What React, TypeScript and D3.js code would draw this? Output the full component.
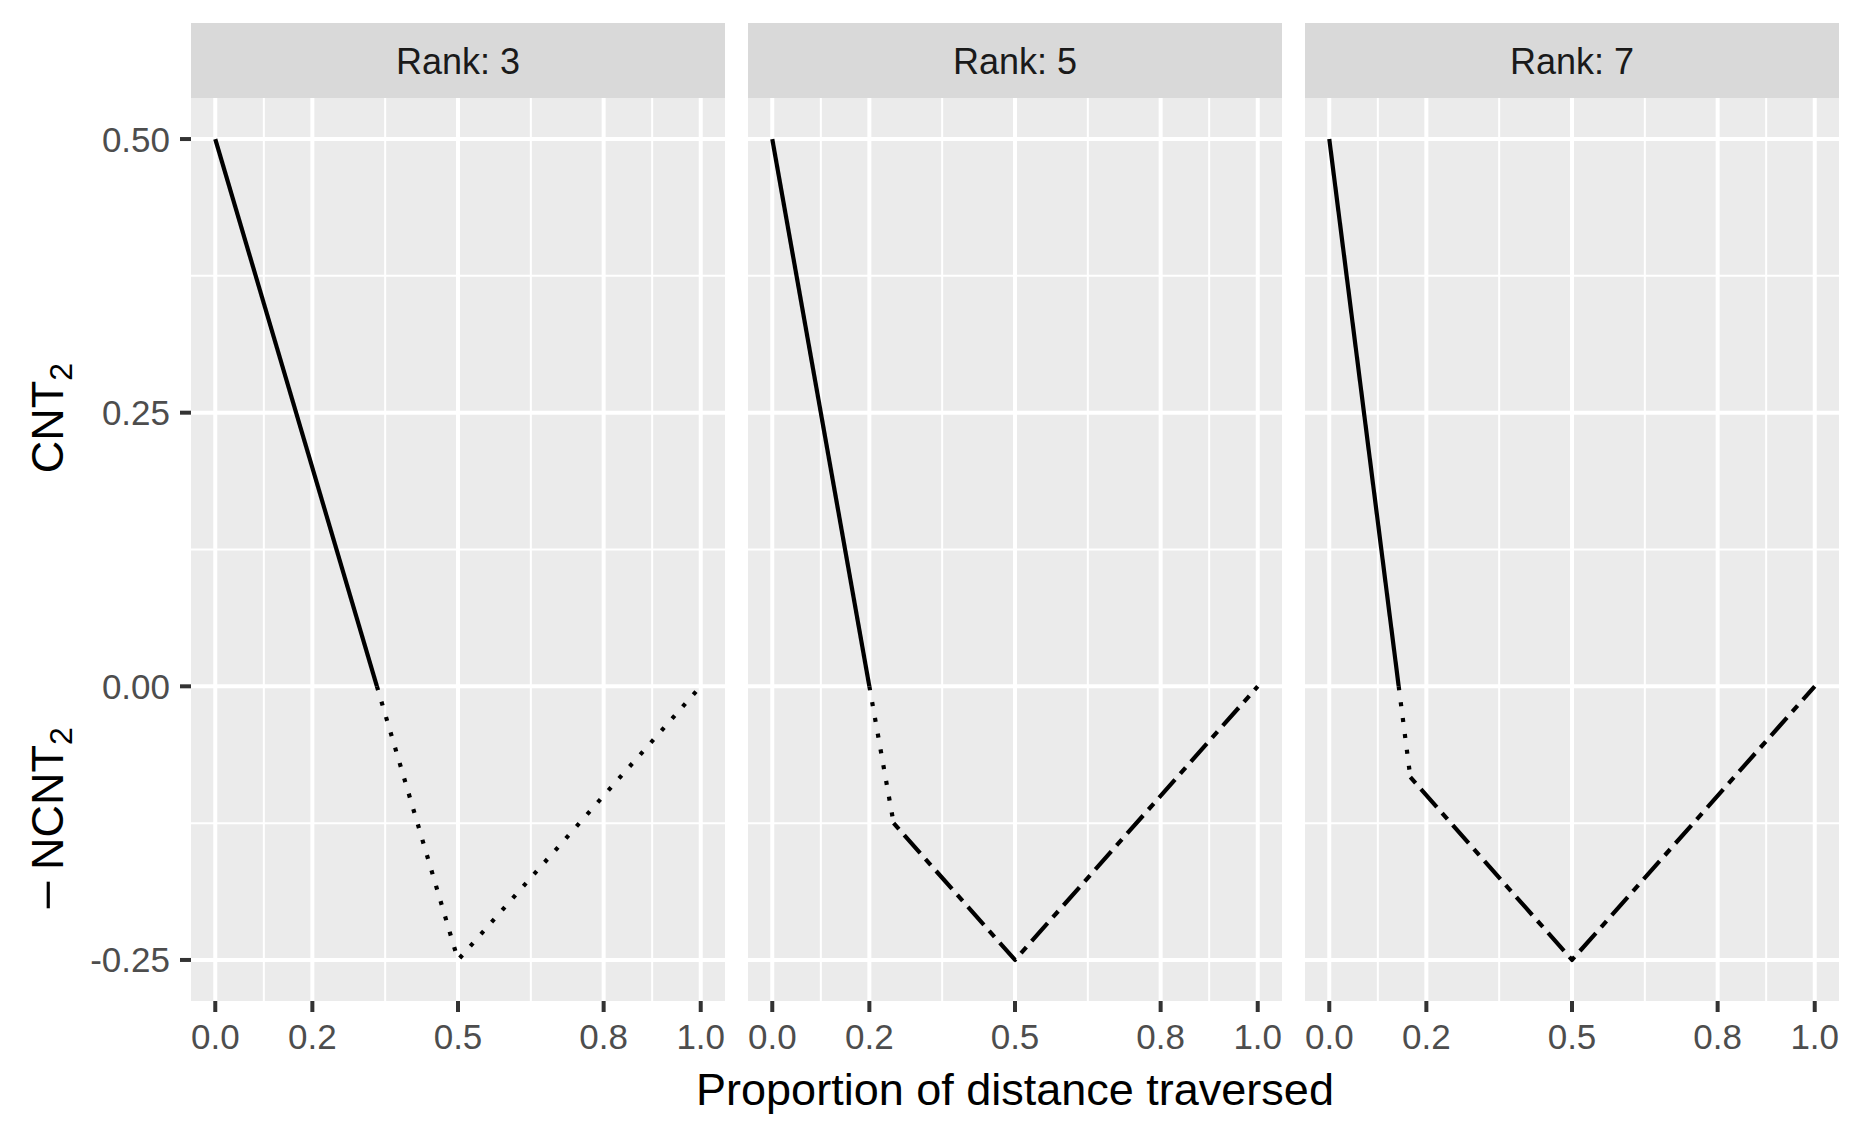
import React from "react";
import * as d3 from "d3";

// ---- data ----
const panels = ["Rank: 3", "Rank: 5", "Rank: 7"];

// Rank 3 path pieces
const rank3SolidX = [0, 0.333];
const rank3SolidY = [0.5, 0];
const rank3DottedX = [0.333, 0.5, 1.0];
const rank3DottedY = [0, -0.25, 0];
const rank3TwodashX: number[] = [];
const rank3TwodashY: number[] = [];

// Rank 5 path pieces
const rank5SolidX = [0, 0.2];
const rank5SolidY = [0.5, 0];
const rank5DottedX = [0.2, 0.25];
const rank5DottedY = [0, -0.125];
const rank5TwodashX = [0.25, 0.5, 1.0];
const rank5TwodashY = [-0.125, -0.25, 0];

// Rank 7 path pieces
const rank7SolidX = [0, 0.143];
const rank7SolidY = [0.5, 0];
const rank7DottedX = [0.143, 0.167];
const rank7DottedY = [0, -0.083];
const rank7TwodashX = [0.167, 0.5, 1.0];
const rank7TwodashY = [-0.083, -0.25, 0];

const xTicks = [0, 0.2, 0.5, 0.8, 1.0];
const xTickLabels = ["0.0", "0.2", "0.5", "0.8", "1.0"];
const xMinor = [0.1, 0.35, 0.65, 0.9];
const yTicks = [0.5, 0.25, 0, -0.25];
const yTickLabels = ["0.50", "0.25", "0.00", "-0.25"];
const yMinor = [0.375, 0.125, -0.125];

const xTitle = "Proportion of distance traversed";

// ---- layout ----
const W = 1860;
const H = 1140;
const panelLeft0 = 191;
const panelW = 534;
const panelGap = 23;
const panelTop = 98;
const panelBottom = 1001;
const stripTop = 23;

const FONT = "'Liberation Sans', Arial, Helvetica, sans-serif";

const dashes: Record<string, string | undefined> = {
  solid: undefined,
  dotted: "4 12",
  twodash: "8 8 24 8",
};

const pieces = [
  [
    { x: rank3SolidX, y: rank3SolidY, lt: "solid" },
    { x: rank3DottedX, y: rank3DottedY, lt: "dotted" },
    { x: rank3TwodashX, y: rank3TwodashY, lt: "twodash" },
  ],
  [
    { x: rank5SolidX, y: rank5SolidY, lt: "solid" },
    { x: rank5DottedX, y: rank5DottedY, lt: "dotted" },
    { x: rank5TwodashX, y: rank5TwodashY, lt: "twodash" },
  ],
  [
    { x: rank7SolidX, y: rank7SolidY, lt: "solid" },
    { x: rank7DottedX, y: rank7DottedY, lt: "dotted" },
    { x: rank7TwodashX, y: rank7TwodashY, lt: "twodash" },
  ],
];

export default function App() {
  const y = d3
    .scaleLinear()
    .domain([-0.25 - 0.0375, 0.5 + 0.0375])
    .range([panelBottom, panelTop]);

  return (
    <svg
      width={W}
      height={H}
      viewBox={`0 0 ${W} ${H}`}
      style={{ position: "absolute", left: 0, top: 0, background: "#fff" }}
    >
      <rect x={0} y={0} width={W} height={H} fill="#ffffff" />
      {panels.map((label, i) => {
        const left = panelLeft0 + i * (panelW + panelGap);
        const x = d3
          .scaleLinear()
          .domain([-0.05, 1.05])
          .range([left, left + panelW]);
        const line = d3
          .line<[number, number]>()
          .x((d) => x(d[0]))
          .y((d) => y(d[1]));
        return (
          <g key={label}>
            {/* strip */}
            <rect
              x={left}
              y={stripTop}
              width={panelW}
              height={panelTop - stripTop}
              fill="#D9D9D9"
            />
            <text
              x={left + panelW / 2}
              y={74}
              textAnchor="middle"
              fontFamily={FONT}
              fontSize={36}
              fill="#1A1A1A"
            >
              {label}
            </text>
            {/* panel background */}
            <rect
              x={left}
              y={panelTop}
              width={panelW}
              height={panelBottom - panelTop}
              fill="#EBEBEB"
            />
            {/* minor grid */}
            {yMinor.map((v) => (
              <line
                key={"ym" + v}
                x1={left}
                x2={left + panelW}
                y1={y(v)}
                y2={y(v)}
                stroke="#fff"
                strokeWidth={2}
              />
            ))}
            {xMinor.map((v) => (
              <line
                key={"xm" + v}
                x1={x(v)}
                x2={x(v)}
                y1={panelTop}
                y2={panelBottom}
                stroke="#fff"
                strokeWidth={2}
              />
            ))}
            {/* major grid */}
            {yTicks.map((v) => (
              <line
                key={"yM" + v}
                x1={left}
                x2={left + panelW}
                y1={y(v)}
                y2={y(v)}
                stroke="#fff"
                strokeWidth={4}
              />
            ))}
            {xTicks.map((v) => (
              <line
                key={"xM" + v}
                x1={x(v)}
                x2={x(v)}
                y1={panelTop}
                y2={panelBottom}
                stroke="#fff"
                strokeWidth={4}
              />
            ))}
            {/* data */}
            {pieces[i]
              .filter((p) => p.x.length > 1)
              .map((p, k) => (
                <path
                  key={k}
                  d={line(p.x.map((xv, j) => [xv, p.y[j]]) as [number, number][]) || ""}
                  fill="none"
                  stroke="#000"
                  strokeWidth={4.2}
                  strokeDasharray={dashes[p.lt]}
                  strokeLinecap="butt"
                  strokeLinejoin="round"
                />
              ))}
            {/* x axis ticks */}
            {xTicks.map((v, j) => (
              <g key={"xt" + v}>
                <line
                  x1={x(v)}
                  x2={x(v)}
                  y1={panelBottom}
                  y2={panelBottom + 11}
                  stroke="#333333"
                  strokeWidth={4}
                />
                <text
                  x={x(v)}
                  y={1049}
                  textAnchor="middle"
                  fontFamily={FONT}
                  fontSize={35}
                  fill="#4D4D4D"
                >
                  {xTickLabels[j]}
                </text>
              </g>
            ))}
          </g>
        );
      })}
      {/* y axis */}
      {yTicks.map((v, j) => (
        <g key={"yt" + v}>
          <line
            x1={panelLeft0 - 11}
            x2={panelLeft0}
            y1={y(v)}
            y2={y(v)}
            stroke="#333333"
            strokeWidth={4}
          />
          <text
            x={170}
            y={y(v) + 12.5}
            textAnchor="end"
            fontFamily={FONT}
            fontSize={35}
            fill="#4D4D4D"
          >
            {yTickLabels[j]}
          </text>
        </g>
      ))}
      {/* axis titles */}
      <text
        x={(panelLeft0 + panelLeft0 + 3 * panelW + 2 * panelGap) / 2}
        y={1105}
        textAnchor="middle"
        fontFamily={FONT}
        fontSize={45}
        fill="#000"
      >
        {xTitle}
      </text>
      <text
        transform={`translate(63, 418) rotate(-90)`}
        textAnchor="middle"
        fontFamily={FONT}
        fontSize={45}
        fill="#000"
      >
        CNT
        <tspan fontSize={32} dy={9}>
          2
        </tspan>
      </text>
      <text
        transform={`translate(63, 911) rotate(-90)`}
        textAnchor="start"
        fontFamily={FONT}
        fontSize={45}
        fill="#000"
        textLength={32}
        lengthAdjust="spacingAndGlyphs"
      >
        {"\u2212"}
      </text>
      <text
        transform={`translate(63, 870) rotate(-90)`}
        textAnchor="start"
        fontFamily={FONT}
        fontSize={45}
        fill="#000"
      >
        NCNT
        <tspan fontSize={32} dy={9}>
          2
        </tspan>
      </text>
    </svg>
  );
}
